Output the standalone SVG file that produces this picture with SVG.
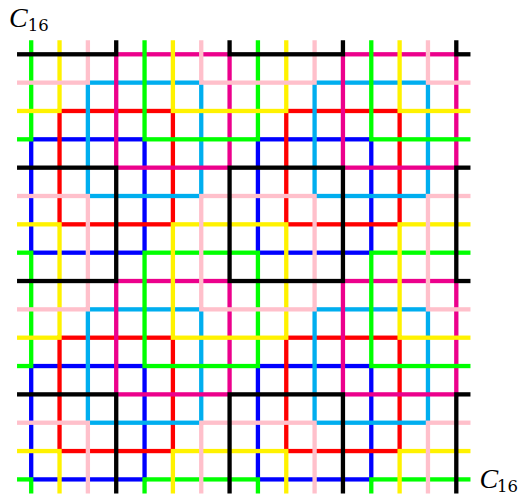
<svg xmlns="http://www.w3.org/2000/svg" width="522" height="494" viewBox="0 0 522 494">
<defs>
<clipPath id="clip"><rect x="-0.5" y="-0.5" width="16" height="16"/></clipPath>
</defs>
<style>
.c rect { fill: none; stroke-width: 0.152; stroke-linejoin: miter; }
.lbl { font-family: "Liberation Serif", "Times New Roman", serif; font-style: italic; font-size: 28px; fill: #000; }
.sub { font-family: "DejaVu Serif", serif; font-style: normal; font-size: 16.5px; }
</style>
<rect width="522" height="494" fill="#fff"/>
<g id="connectors" transform="translate(31.2,54.3) scale(28.34)" clip-path="url(#clip)">
  <g id="blue" class="c" stroke="#0000FF">
    <rect x="0" y="3" width="4" height="4"/><rect x="8" y="3" width="4" height="4"/>
    <rect x="0" y="11" width="4" height="4"/><rect x="8" y="11" width="4" height="4"/>
  </g>
  <g id="red" class="c" stroke="#FF0000">
    <rect x="1" y="2" width="4" height="4"/><rect x="9" y="2" width="4" height="4"/>
    <rect x="1" y="10" width="4" height="4"/><rect x="9" y="10" width="4" height="4"/>
  </g>
  <g id="cyan" class="c" stroke="#00AEEF">
    <rect x="2" y="1" width="4" height="4"/><rect x="10" y="1" width="4" height="4"/>
    <rect x="2" y="9" width="4" height="4"/><rect x="10" y="9" width="4" height="4"/>
  </g>
  <g id="magenta" class="c" stroke="#EC008C">
    <rect x="3" y="0" width="4" height="4"/><rect x="11" y="0" width="4" height="4"/>
    <rect x="3" y="8" width="4" height="4"/><rect x="11" y="8" width="4" height="4"/>
  </g>
  <g id="green" class="c" stroke="#00FF00">
    <rect x="-4" y="-1" width="4" height="4"/><rect x="4" y="-1" width="4" height="4"/><rect x="12" y="-1" width="4" height="4"/>
    <rect x="-4" y="7" width="4" height="4"/><rect x="4" y="7" width="4" height="4"/><rect x="12" y="7" width="4" height="4"/>
    <rect x="-4" y="15" width="4" height="4"/><rect x="4" y="15" width="4" height="4"/><rect x="12" y="15" width="4" height="4"/>
  </g>
  <g id="yellow" class="c" stroke="#FFF200">
    <rect x="-3" y="-2" width="4" height="4"/><rect x="5" y="-2" width="4" height="4"/><rect x="13" y="-2" width="4" height="4"/>
    <rect x="-3" y="6" width="4" height="4"/><rect x="5" y="6" width="4" height="4"/><rect x="13" y="6" width="4" height="4"/>
    <rect x="-3" y="14" width="4" height="4"/><rect x="5" y="14" width="4" height="4"/><rect x="13" y="14" width="4" height="4"/>
  </g>
  <g id="pink" class="c" stroke="#FFC0CB">
    <rect x="-2" y="-3" width="4" height="4"/><rect x="6" y="-3" width="4" height="4"/><rect x="14" y="-3" width="4" height="4"/>
    <rect x="-2" y="5" width="4" height="4"/><rect x="6" y="5" width="4" height="4"/><rect x="14" y="5" width="4" height="4"/>
    <rect x="-2" y="13" width="4" height="4"/><rect x="6" y="13" width="4" height="4"/><rect x="14" y="13" width="4" height="4"/>
  </g>
  <g id="black" class="c" stroke="#000000">
    <rect x="-1" y="-4" width="4" height="4"/><rect x="7" y="-4" width="4" height="4"/><rect x="15" y="-4" width="4" height="4"/>
    <rect x="-1" y="4" width="4" height="4"/><rect x="7" y="4" width="4" height="4"/><rect x="15" y="4" width="4" height="4"/>
    <rect x="-1" y="12" width="4" height="4"/><rect x="7" y="12" width="4" height="4"/><rect x="15" y="12" width="4" height="4"/>
  </g>
</g>
<g id="label-top">
  <text class="lbl" x="9" y="27">C<tspan class="sub" dx="0" dy="3.8">16</tspan></text>
</g>
<g id="label-bottom">
  <text class="lbl" x="479.5" y="487.5">C<tspan class="sub" dx="-1.2" dy="4">16</tspan></text>
</g>
</svg>
